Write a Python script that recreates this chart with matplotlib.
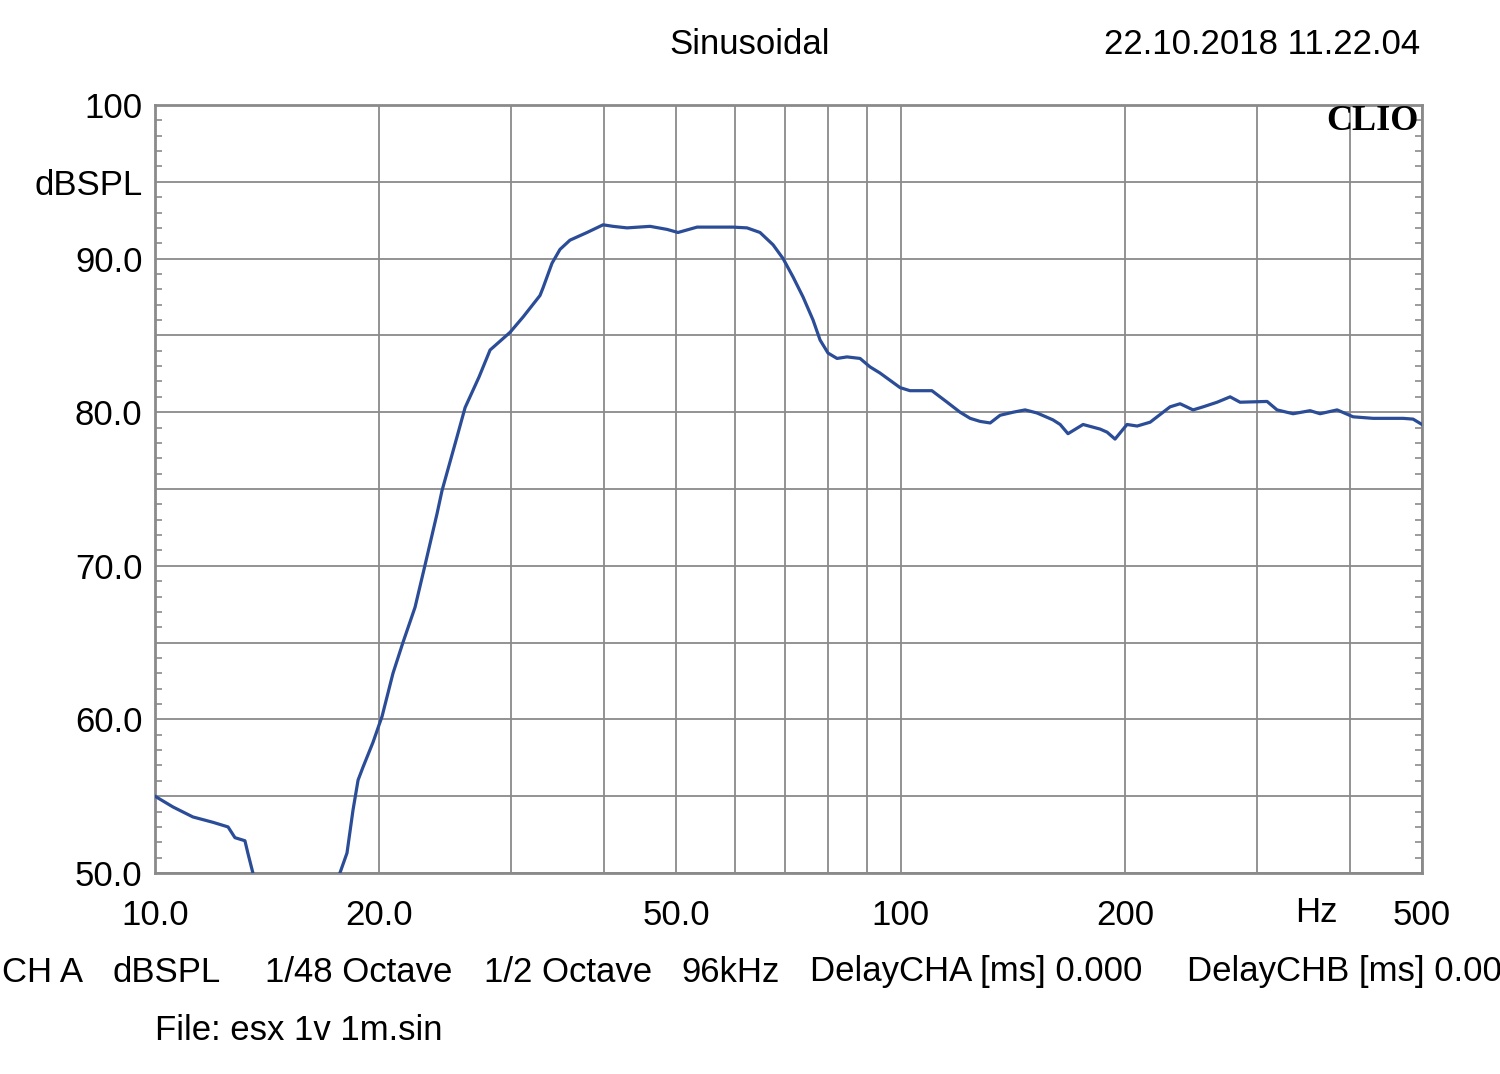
import matplotlib.pyplot as plt
import numpy as np
from matplotlib.ticker import MultipleLocator, NullLocator

# response (Hz, dBSPL); NaN marks where the curve leaves the bottom
freq = [10.0, 10.57, 11.24, 11.96, 12.53, 12.80, 13.20, 13.32, 13.53, np.nan,
        17.70, 18.09, 18.43, 18.72, 19.01, 19.60, 20.16, 20.85, 21.50, 22.32,
        23.02, 23.89, 24.26, 25.41, 26.05, 27.2, 28.14, 29.93, 31.16, 32.83,
        33.14, 34.07, 34.92, 36.01, 37.96, 39.89, 41.14, 42.95, 46.12, 48.61,
        50.27, 53.32, 59.58, 62.21, 64.76, 67.42, 69.54, 71.72, 73.96, 76.28,
        77.95, 79.89, 82.14, 84.72, 88.19, 90.95, 93.80, 99.8, 102.9, 110.1,
        115.4, 120.1, 123.9, 127.8, 131.8, 135.9, 141.5, 146.8, 152.3, 160.0,
        163.6, 167.6, 175.6, 185.1, 189.1, 193.8, 201.1, 207.5, 216.0, 229.7,
        236.9, 246.6, 254.4, 265.6, 276.5, 285.1, 309.9, 319.6, 335.8, 353.9,
        365.0, 384.7, 404.2, 429.9, 471.7, 486.4, 500.0]
spl = [55.0, 54.3, 53.65, 53.3, 53.0, 52.3, 52.1, 51.3, 50.0, np.nan,
       50.0, 51.3, 54.1, 56.05, 56.9, 58.5, 60.2, 63.0, 65.0, 67.3,
       70.05, 73.4, 74.9, 78.4, 80.3, 82.3, 84.05, 85.2, 86.2, 87.6,
       88.1, 89.7, 90.6, 91.2, 91.7, 92.2, 92.1, 92.0, 92.1, 91.9,
       91.7, 92.05, 92.05, 92.0, 91.7, 90.9, 90.0, 88.8, 87.5, 86.0,
       84.7, 83.85, 83.5, 83.6, 83.5, 82.95, 82.55, 81.6, 81.4, 81.4,
       80.65, 80.0, 79.6, 79.4, 79.3, 79.8, 80.0, 80.15, 79.95, 79.5,
       79.2, 78.6, 79.2, 78.9, 78.7, 78.25, 79.2, 79.1, 79.35, 80.35,
       80.55, 80.15, 80.35, 80.65, 81.0, 80.65, 80.7, 80.15, 79.9, 80.1,
       79.9, 80.15, 79.7, 79.6, 79.6, 79.55, 79.2]

x_ticks = [10, 20, 30, 40, 50, 60, 70, 80, 90, 100, 200, 300, 400, 500]
x_labels = ['10.0', '20.0', '', '', '50.0', '', '', '', '', '100', '200', '', '', '500']
y_ticks = [50, 55, 60, 65, 70, 75, 80, 85, 90, 95, 100]
y_labels = ['50.0', '', '60.0', '', '70.0', '', '80.0', '', '90.0', 'dBSPL', '100']

footer = [(2, 'CH A'), (113, 'dBSPL'), (265, '1/48 Octave'), (484, '1/2 Octave'),
          (681, '96kHz'), (810, 'DelayCHA [ms] 0.000'), (1187, 'DelayCHB [ms] 0.000')]

plt.rcParams['font.family'] = ['Liberation Sans', 'DejaVu Sans']
W, H = 1500, 1074
fs = 25
grid_c = '#8a8a8a'

fig = plt.figure(figsize=(15, 10.74), dpi=100)
ax = fig.add_axes([155 / W, 1 - 873 / H, (1422 - 155) / W, (873 - 105) / H])

ax.plot(freq, spl, color='#2b4c97', linewidth=2.3, zorder=3)

ax.set_xscale('log')
ax.set_xlim(10, 500)
ax.set_ylim(50, 100)
ax.set_xticks(x_ticks)
ax.set_xticklabels(x_labels, fontsize=fs)
ax.xaxis.set_minor_locator(NullLocator())
ax.set_yticks(y_ticks)
ax.set_yticklabels(y_labels, fontsize=fs)
ax.yaxis.set_minor_locator(MultipleLocator(1))

ax.grid(True, which='major', color=grid_c, linewidth=1.3)
ax.tick_params(axis='x', which='major', length=0, pad=19)
ax.tick_params(axis='y', which='major', length=0, pad=9)
ax.tick_params(axis='y', which='minor', direction='in', length=5, width=1.2,
               color=grid_c, left=True, right=True)
for s in ax.spines.values():
    s.set_color(grid_c)
    s.set_linewidth(2)

# units label on the x axis, sits between the 300 and 400 lines
fig.text(1316 / W, 1 - 913 / H, 'Hz', fontsize=fs, ha='center', va='center')

ax.text(0.997, 0.978, 'CLIO', transform=ax.transAxes, ha='right', va='center',
        fontsize=26, fontweight='bold', family='Liberation Serif')

fig.text(750 / W, 1 - 45 / H, 'Sinusoidal', fontsize=fs, ha='center', va='center')
fig.text(1420 / W, 1 - 45 / H, '22.10.2018 11.22.04', fontsize=fs, ha='right', va='center')

for xpos, txt in footer:
    fig.text(xpos / W, 1 - 972 / H, txt, fontsize=fs, ha='left', va='center')
fig.text(155 / W, 1 - 1030 / H, 'File: esx 1v 1m.sin', fontsize=fs, ha='left', va='center')

plt.savefig('out.png', dpi=100)
